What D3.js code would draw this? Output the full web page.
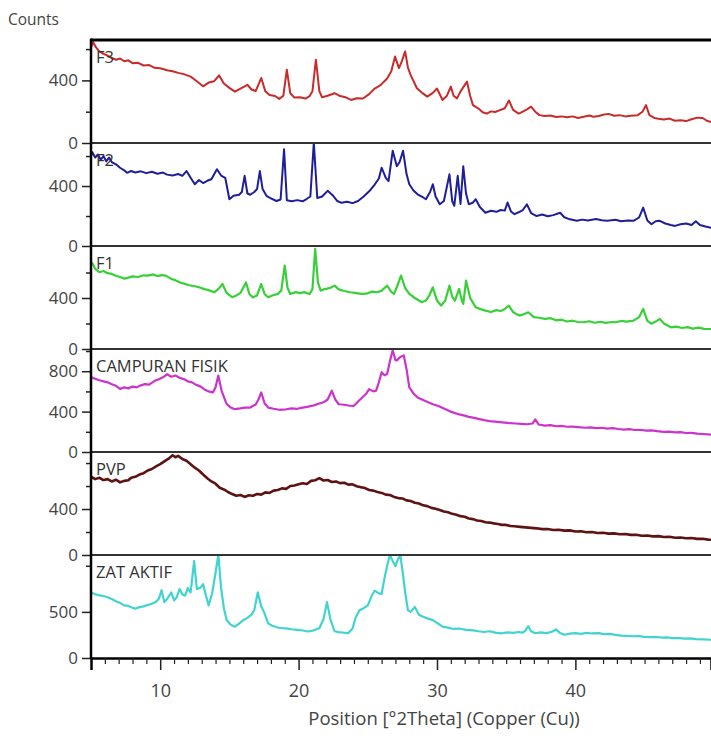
<!DOCTYPE html>
<html>
<head>
<meta charset="utf-8">
<script src="https://cdn.jsdelivr.net/npm/d3@7"></script>
<style>
  body { margin: 0; background: #fff; }
  text { font-family: "Open Sans", sans-serif; }
</style>
</head>
<body>
<svg id="chart"></svg>
<script>
// ---- data ----
const panelNames = ["F3", "F2", "F1", "CAMPURAN FISIK", "PVP", "ZAT AKTIF"];
const yMax = [658, 687, 808, 1020, 896, 1117];
const yMajorTicks = [[0, 400], [0, 400], [0, 400], [0, 400, 800], [0, 400], [0, 500]];
const yMinorTicks = [[200, 600], [200, 600], [200, 600], [200, 600, 1000], [200, 600, 800], [1000]];
const xMajorTicks = [10, 20, 30, 40];
const xDomain = [5, 49.8];

const f3 = [[5.0,610],[5.15,645],[5.35,612],[5.6,585],[5.9,570],[6.2,558],[6.45,545],[6.8,532],[7.1,540],[7.4,522],[7.7,528],[8.0,510],[8.4,512],[8.8,495],[9.2,498],[9.6,480],[10.0,478],[10.5,465],[10.9,458],[11.3,448],[11.7,440],[12.2,424],[12.6,398],[13.1,362],[13.5,386],[13.9,395],[14.25,432],[14.6,380],[15.0,352],[15.4,328],[15.8,348],[16.3,372],[16.6,342],[16.9,332],[17.3,415],[17.6,330],[17.9,306],[18.3,300],[18.6,282],[18.9,302],[19.15,468],[19.4,318],[19.7,290],[20.1,292],[20.5,284],[20.8,300],[21.0,330],[21.25,532],[21.5,332],[21.7,292],[22.1,302],[22.6,318],[23.0,300],[23.4,292],[23.8,275],[24.2,286],[24.65,284],[25.1,312],[25.5,348],[25.9,368],[26.4,412],[26.7,458],[26.97,552],[27.25,478],[27.45,520],[27.7,585],[27.9,482],[28.1,434],[28.55,350],[28.9,322],[29.3,296],[29.7,320],[30.0,348],[30.4,275],[30.7,300],[31.0,360],[31.2,302],[31.45,285],[31.7,330],[32.17,392],[32.4,300],[32.6,242],[33.0,220],[33.3,196],[33.6,188],[33.9,202],[34.2,198],[34.6,212],[34.9,222],[35.2,272],[35.5,212],[35.9,188],[36.2,200],[36.5,215],[36.8,232],[37.1,200],[37.4,178],[37.8,172],[38.2,176],[38.6,166],[39.0,170],[39.4,164],[39.8,170],[40.2,160],[40.6,168],[41.0,176],[41.3,168],[41.7,172],[42.0,180],[42.4,186],[42.8,174],[43.2,178],[43.6,170],[44.0,174],[44.5,178],[44.85,200],[45.1,242],[45.35,178],[45.7,160],[46.0,155],[46.4,150],[46.8,156],[47.2,142],[47.6,146],[48.0,140],[48.4,152],[48.8,162],[49.2,160],[49.5,142],[49.8,134]];

const f2 = [[5.0,600],[5.1,625],[5.3,590],[5.5,610],[5.7,575],[5.9,600],[6.1,565],[6.3,590],[6.5,560],[6.8,545],[7.1,522],[7.4,505],[7.6,488],[7.9,500],[8.2,490],[8.6,498],[9.0,486],[9.4,495],[9.8,482],[10.2,490],[10.5,476],[10.9,470],[11.3,480],[11.6,468],[11.9,500],[12.2,455],[12.5,412],[12.8,440],[13.1,420],[13.4,435],[13.7,445],[14.1,512],[14.4,470],[14.7,455],[15.0,312],[15.3,335],[15.7,342],[15.9,360],[16.1,468],[16.3,350],[16.5,342],[16.8,360],[17.0,380],[17.2,500],[17.4,380],[17.7,332],[18.0,318],[18.4,300],[18.7,310],[18.95,645],[19.15,305],[19.5,298],[19.9,306],[20.3,298],[20.6,315],[20.85,330],[21.1,690],[21.35,320],[21.7,330],[22.1,368],[22.5,335],[22.8,300],[23.1,288],[23.5,295],[23.9,286],[24.3,300],[24.7,330],[25.1,365],[25.5,410],[25.8,450],[26.0,522],[26.3,455],[26.5,433],[26.8,635],[27.1,532],[27.3,560],[27.55,635],[27.8,480],[28.0,412],[28.3,370],[28.6,345],[28.9,330],[29.2,312],[29.5,360],[29.7,412],[29.9,330],[30.2,278],[30.5,300],[30.9,478],[31.1,300],[31.25,268],[31.5,468],[31.7,280],[31.9,532],[32.1,350],[32.3,278],[32.6,290],[32.8,312],[33.1,260],[33.5,222],[33.9,235],[34.3,228],[34.6,240],[34.9,236],[35.1,290],[35.35,230],[35.6,212],[35.9,225],[36.2,240],[36.5,278],[36.8,220],[37.2,200],[37.6,210],[38.0,198],[38.4,206],[38.9,222],[39.2,192],[39.6,178],[40.1,168],[40.5,176],[40.9,170],[41.5,180],[41.9,172],[42.3,168],[42.9,175],[43.3,165],[43.8,170],[44.2,168],[44.6,190],[44.9,256],[45.2,170],[45.5,145],[45.8,165],[46.1,168],[46.5,150],[46.9,140],[47.2,134],[47.6,145],[48.0,150],[48.4,140],[48.7,165],[49.0,140],[49.4,130],[49.8,122]];

const f1 = [[5.0,660],[5.1,672],[5.3,630],[5.6,602],[5.9,612],[6.2,595],[6.5,589],[6.8,575],[7.1,565],[7.4,552],[7.7,560],[8.0,570],[8.4,565],[8.8,578],[9.1,576],[9.5,585],[9.8,572],[10.1,580],[10.4,576],[10.8,550],[11.1,540],[11.4,523],[11.8,510],[12.1,500],[12.5,492],[12.8,484],[13.2,470],[13.5,462],[13.9,445],[14.2,470],[14.5,510],[14.8,440],[15.2,406],[15.5,420],[15.8,440],[16.2,522],[16.45,430],[16.7,405],[17.0,420],[17.3,510],[17.55,430],[17.8,406],[18.1,420],[18.5,432],[18.75,460],[19.0,655],[19.2,480],[19.4,432],[19.8,446],[20.1,438],[20.4,446],[20.8,432],[21.0,470],[21.2,785],[21.4,520],[21.6,458],[21.9,470],[22.3,480],[22.6,497],[22.9,468],[23.3,455],[23.7,445],[24.1,440],[24.5,432],[24.9,434],[25.3,450],[25.7,445],[26.0,458],[26.4,497],[26.7,448],[26.9,432],[27.15,500],[27.4,576],[27.7,480],[28.0,432],[28.4,400],[28.9,367],[29.2,380],[29.45,420],[29.7,484],[30.0,380],[30.3,340],[30.6,380],[30.9,497],[31.1,410],[31.3,380],[31.6,471],[31.8,380],[31.9,354],[32.1,536],[32.4,400],[32.8,327],[33.1,315],[33.5,301],[33.9,290],[34.3,305],[34.6,298],[34.9,314],[35.2,340],[35.5,290],[35.8,270],[36.0,262],[36.3,275],[36.6,288],[37.0,250],[37.4,245],[37.8,236],[38.2,242],[38.6,225],[39.0,230],[39.4,216],[39.8,222],[40.2,212],[40.6,210],[41.0,218],[41.4,206],[41.8,214],[42.2,205],[42.6,212],[42.9,210],[43.3,220],[43.7,215],[44.2,223],[44.6,250],[44.9,314],[45.2,220],[45.5,198],[45.8,215],[46.1,236],[46.4,200],[46.9,170],[47.3,176],[47.7,165],[48.1,172],[48.5,160],[48.9,168],[49.3,158],[49.8,157]];

const campuranFisik = [[5.0,740],[5.3,725],[5.6,710],[5.9,700],[6.2,690],[6.5,672],[6.8,655],[7.1,625],[7.4,640],[7.7,630],[8.0,648],[8.3,640],[8.6,660],[8.9,672],[9.2,668],[9.6,705],[9.9,720],[10.2,740],[10.5,770],[10.8,745],[11.1,758],[11.4,735],[11.7,722],[12.0,700],[12.3,690],[12.6,665],[12.9,650],[13.2,620],[13.5,600],[13.8,590],[14.0,640],[14.2,757],[14.45,600],[14.8,475],[15.1,440],[15.4,424],[15.8,432],[16.1,440],[16.5,440],[16.9,470],[17.1,520],[17.3,590],[17.55,480],[17.8,440],[18.2,428],[18.6,418],[19.1,423],[19.5,432],[19.9,428],[20.3,440],[20.7,450],[21.1,462],[21.5,480],[21.8,492],[22.1,520],[22.4,607],[22.65,520],[22.9,473],[23.3,468],[23.7,458],[24.0,457],[24.3,500],[24.6,540],[24.9,580],[25.1,623],[25.4,600],[25.6,607],[25.8,690],[26.0,790],[26.2,760],[26.4,773],[26.6,900],[26.8,1007],[27.0,910],[27.1,907],[27.35,940],[27.6,957],[27.8,820],[28.0,640],[28.3,580],[28.6,540],[29.0,515],[29.4,490],[29.7,473],[30.1,455],[30.5,430],[30.9,405],[31.2,390],[31.6,372],[32.0,360],[32.3,348],[32.6,340],[33.0,328],[33.4,315],[33.8,305],[34.2,300],[34.5,296],[34.9,290],[35.3,285],[35.7,282],[36.1,278],[36.5,275],[36.9,282],[37.1,323],[37.35,272],[37.8,262],[38.2,266],[38.6,255],[39.0,258],[39.4,250],[39.8,252],[40.2,246],[40.7,240],[41.1,244],[41.5,236],[41.9,240],[42.3,232],[42.7,236],[43.1,228],[43.5,222],[43.9,226],[44.3,218],[44.7,220],[45.1,212],[45.5,214],[45.9,206],[46.4,200],[46.8,202],[47.2,195],[47.6,196],[48.0,188],[48.4,190],[48.8,182],[49.2,178],[49.8,172]];

const pvp = [[5.0,681],[5.3,660],[5.6,672],[5.9,652],[6.2,660],[6.5,640],[6.8,655],[7.1,632],[7.4,645],[7.7,650],[7.9,672],[8.2,680],[8.5,700],[8.8,712],[9.1,735],[9.4,748],[9.7,770],[10.0,790],[10.3,815],[10.6,838],[10.9,868],[11.1,850],[11.3,862],[11.6,835],[11.9,820],[12.2,790],[12.5,760],[12.8,735],[13.1,700],[13.4,668],[13.7,640],[14.0,620],[14.3,585],[14.6,570],[14.9,548],[15.2,530],[15.5,515],[15.8,522],[16.1,505],[16.4,520],[16.7,515],[17.0,530],[17.3,525],[17.6,545],[17.9,540],[18.2,560],[18.5,565],[18.8,580],[19.1,575],[19.4,600],[19.7,605],[20.0,615],[20.3,625],[20.6,618],[20.9,645],[21.2,650],[21.5,668],[21.8,648],[22.1,652],[22.4,635],[22.7,640],[23.0,625],[23.3,628],[23.6,612],[23.9,615],[24.2,598],[24.5,590],[24.8,582],[25.1,565],[25.4,560],[25.7,548],[26.0,540],[26.3,525],[26.6,522],[26.9,505],[27.2,495],[27.5,492],[27.8,475],[28.1,470],[28.4,455],[28.7,448],[29.0,432],[29.3,425],[29.6,410],[29.9,402],[30.2,392],[30.5,378],[30.8,372],[31.1,358],[31.4,350],[31.7,338],[32.0,332],[32.3,318],[32.6,312],[32.9,300],[33.2,296],[33.5,285],[33.8,282],[34.1,275],[34.4,270],[34.7,262],[35.0,262],[35.3,252],[35.6,250],[36.0,245],[36.4,240],[36.8,236],[37.2,232],[37.6,225],[38.0,226],[38.4,218],[38.8,220],[39.2,212],[39.6,214],[40.0,205],[40.4,206],[40.8,198],[41.2,200],[41.6,192],[42.0,194],[42.4,186],[42.8,188],[43.2,180],[43.6,182],[44.0,175],[44.4,176],[44.8,168],[45.2,170],[45.6,162],[46.0,164],[46.4,156],[46.8,158],[47.2,150],[47.6,152],[48.0,146],[48.4,148],[48.8,140],[49.2,142],[49.6,134],[49.8,132]];

const zatAktif = [[5.0,712],[5.3,690],[5.6,680],[5.9,672],[6.2,659],[6.5,640],[6.8,615],[7.1,598],[7.4,571],[7.7,565],[8.0,545],[8.2,535],[8.5,552],[8.8,560],[9.1,575],[9.4,588],[9.7,610],[9.9,642],[10.1,735],[10.3,606],[10.5,640],[10.8,712],[11.0,624],[11.2,660],[11.4,748],[11.6,690],[11.8,677],[12.0,760],[12.2,712],[12.45,1050],[12.65,748],[12.9,760],[13.1,801],[13.3,680],[13.5,571],[13.75,700],[14.0,925],[14.2,1120],[14.4,760],[14.6,540],[14.8,411],[15.1,360],[15.4,340],[15.7,372],[16.0,410],[16.3,435],[16.6,470],[16.8,520],[17.05,712],[17.3,560],[17.5,500],[17.8,376],[18.1,350],[18.5,330],[18.8,325],[19.1,322],[19.5,312],[19.9,305],[20.3,298],[20.7,287],[21.1,300],[21.5,322],[21.8,420],[22.05,606],[22.3,420],[22.6,290],[22.9,280],[23.3,274],[23.6,270],[23.9,320],[24.1,430],[24.4,517],[24.7,540],[25.0,571],[25.3,680],[25.5,730],[25.8,700],[26.0,695],[26.2,860],[26.4,1000],[26.6,1120],[26.8,1050],[27.0,996],[27.15,1060],[27.35,1120],[27.55,900],[27.7,712],[27.9,520],[28.1,500],[28.4,553],[28.7,470],[29.0,447],[29.3,430],[29.7,411],[30.0,380],[30.4,340],[30.8,330],[31.2,315],[31.6,320],[32.1,305],[32.6,300],[33.0,290],[33.4,282],[33.8,290],[34.2,275],[34.7,268],[35.1,278],[35.5,272],[35.9,282],[36.2,276],[36.4,300],[36.6,345],[36.8,290],[37.1,268],[37.5,278],[37.9,270],[38.3,285],[38.6,310],[38.9,270],[39.2,252],[39.6,265],[40.0,270],[40.4,262],[40.8,272],[41.2,266],[41.7,270],[42.1,258],[42.5,262],[42.9,250],[43.3,242],[43.7,240],[44.1,236],[44.6,238],[45.0,230],[45.4,226],[45.8,230],[46.2,222],[46.6,224],[47.0,216],[47.5,216],[47.9,210],[48.3,212],[48.7,204],[49.2,202],[49.8,198]];

const series = [f3, f2, f1, campuranFisik, pvp, zatAktif];
const colors = ["#c92a2a", "#1e1e9a", "#38d038", "#cc33cc", "#5e1212", "#40d4ce"];
const widths = [2, 2, 2.2, 2.2, 2.6, 2.2];

// ---- layout ----
const W = 711, H = 742;
const margin = { top: 40, right: 0, bottom: 84, left: 91 };
const plotH = H - margin.top - margin.bottom;
const ph = plotH / series.length;

const svg = d3.select("#chart").attr("width", W).attr("height", H);

const x = d3.scaleLinear().domain(xDomain).range([margin.left, W - margin.right]);

svg.append("text")
  .attr("x", 8).attr("y", 25)
  .attr("font-size", 15.5).attr("fill", "#444")
  .text("Counts");

series.forEach((data, i) => {
  const top = margin.top + i * ph;
  const y = d3.scaleLinear().domain([0, yMax[i]]).range([top + ph, top]);

  svg.append("clipPath").attr("id", "clip" + i)
    .append("rect")
    .attr("x", margin.left).attr("y", top)
    .attr("width", W - margin.left).attr("height", ph);

  svg.append("path")
    .datum(data)
    .attr("clip-path", `url(#clip${i})`)
    .attr("fill", "none")
    .attr("stroke", colors[i])
    .attr("stroke-width", widths[i])
    .attr("stroke-linejoin", "round")
    .attr("d", d3.line().x(d => x(d[0])).y(d => y(d[1])));

  // major y ticks with labels
  const gy = svg.append("g")
    .attr("transform", `translate(${margin.left},0)`)
    .call(d3.axisLeft(y).tickValues(yMajorTicks[i]).tickSize(9).tickPadding(4));
  gy.select(".domain").remove();
  gy.selectAll("line").attr("stroke", "#222").attr("stroke-width", 1.5);
  gy.selectAll("text").attr("font-size", 17).attr("fill", "#444")
    .attr("font-family", "Open Sans, sans-serif");

  // minor y ticks
  const gm = svg.append("g")
    .attr("transform", `translate(${margin.left},0)`)
    .call(d3.axisLeft(y).tickValues(yMinorTicks[i]).tickSize(5).tickFormat(""));
  gm.select(".domain").remove();
  gm.selectAll("line").attr("stroke", "#222").attr("stroke-width", 1.5);

  // panel top border
  svg.append("line")
    .attr("x1", margin.left).attr("x2", W)
    .attr("y1", top).attr("y2", top)
    .attr("stroke", i === 0 ? "#000" : "#333")
    .attr("stroke-width", i === 0 ? 3 : 2);

  svg.append("text")
    .attr("x", margin.left + 5).attr("y", top + 23)
    .attr("font-size", 16.5).attr("fill", "#333")
    .text(panelNames[i]);
});

// left spine and bottom axis
svg.append("line")
  .attr("x1", margin.left).attr("x2", margin.left)
  .attr("y1", margin.top - 1.5).attr("y2", margin.top + plotH + 1)
  .attr("stroke", "#000").attr("stroke-width", 2.5);

const gx = svg.append("g")
  .attr("transform", `translate(0,${margin.top + plotH})`)
  .call(d3.axisBottom(x).tickValues(xMajorTicks).tickSize(12).tickPadding(14));
gx.select(".domain").attr("stroke", "#000").attr("stroke-width", 2.5);
gx.selectAll("line").attr("stroke", "#222").attr("stroke-width", 1.5);
gx.selectAll("text").attr("font-size", 18).attr("fill", "#444")
  .attr("font-family", "Open Sans, sans-serif");

const gxm = svg.append("g")
  .attr("transform", `translate(0,${margin.top + plotH})`)
  .call(d3.axisBottom(x).tickValues(d3.range(6, 50).filter(v => v % 10 !== 0)).tickSize(6).tickFormat(""));
gxm.select(".domain").remove();
gxm.selectAll("line").attr("stroke", "#222").attr("stroke-width", 1.2);

svg.append("text")
  .attr("x", 444).attr("y", 725)
  .attr("text-anchor", "middle")
  .attr("font-size", 18.5).attr("fill", "#444")
  .text("Position [°2Theta] (Copper (Cu))");
</script>
</body>
</html>
